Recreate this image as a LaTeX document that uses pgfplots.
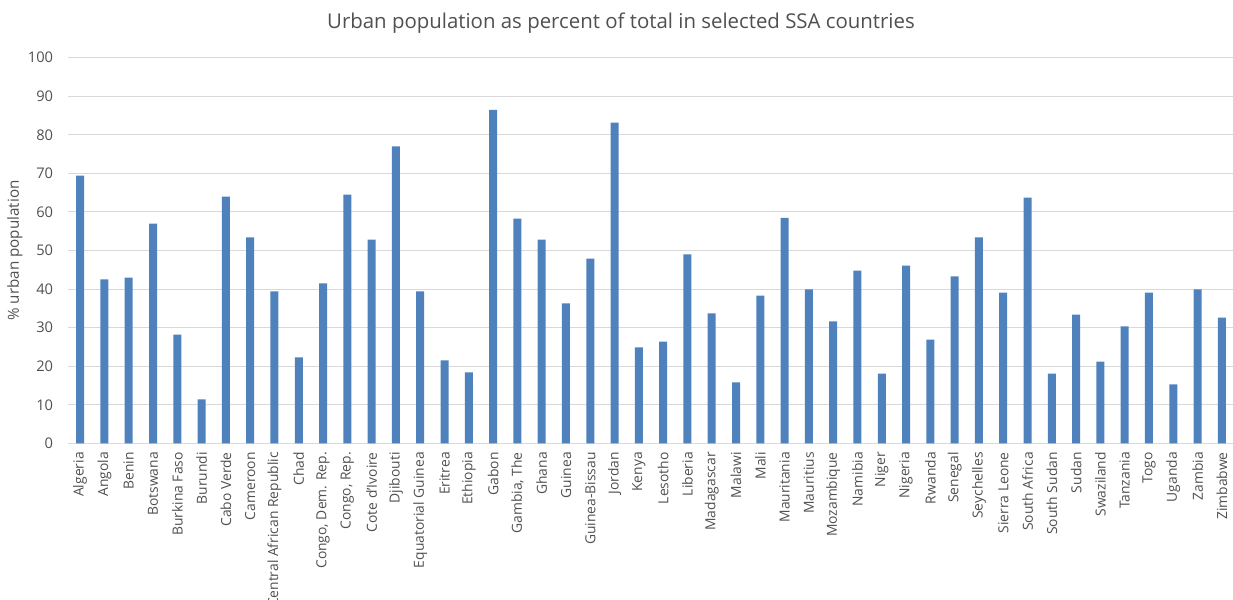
\documentclass[border=0pt]{standalone}
\usepackage{pgfplots}
\pgfplotsset{compat=1.18}
\usepackage{fontspec}
\setmainfont{Open Sans}
\definecolor{barblue}{HTML}{4F81BD}
\definecolor{txtgray}{HTML}{505050}
\definecolor{gridgray}{HTML}{D9D9D9}
\begin{document}
\begin{tikzpicture}
\begin{axis}[
  scale only axis, width=874.5pt, height=289.2pt,
  at={(0,0)}, anchor=south west,
  ybar, bar width=6pt,
  xmin=-0.5, xmax=47.5, ymin=0, ymax=100,
  ytick={0,10,...,100},
  xtick={0,...,47},
  xticklabels={Algeria,Angola,Benin,Botswana,Burkina Faso,Burundi,Cabo Verde,Cameroon,Central African Republic,Chad,{Congo, Dem. Rep.},{Congo, Rep.},Cote d'Ivoire,Djibouti,Equatorial Guinea,Eritrea,Ethiopia,Gabon,{Gambia, The},Ghana,Guinea,Guinea-Bissau,Jordan,Kenya,Lesotho,Liberia,Madagascar,Malawi,Mali,Mauritania,Mauritius,Mozambique,Namibia,Niger,Nigeria,Rwanda,Senegal,Seychelles,Sierra Leone,South Africa,South Sudan,Sudan,Swaziland,Tanzania,Togo,Uganda,Zambia,Zimbabwe},
  major tick length=0pt,
  axis line style={draw=none},
  ymajorgrids, major grid style={gridgray, line width=0.75pt},
  x tick label style={rotate=90, anchor=east, inner sep=0pt, font=\fontsize{10.4}{12}\selectfont, text=txtgray},
  xticklabel shift=6.5pt,
  y tick label style={anchor=east, inner sep=0pt, font=\fontsize{11}{12}\selectfont, text=txtgray},
  yticklabel shift=11pt,
  /pgf/number format/assume math mode=true,
  clip=false,
]
\addplot[fill=barblue, draw=none] coordinates {
(0,69.4) (1,42.5) (2,43.0) (3,57.0) (4,28.2) (5,11.4) (6,64.0) (7,53.4) (8,39.4) (9,22.3)
(10,41.5) (11,64.5) (12,52.8) (13,77.0) (14,39.4) (15,21.5) (16,18.4) (17,86.5) (18,58.3) (19,52.8)
(20,36.3) (21,47.9) (22,83.2) (23,24.9) (24,26.4) (25,49.0) (26,33.7) (27,15.8) (28,38.3) (29,58.5)
(30,39.9) (31,31.6) (32,44.8) (33,18.1) (34,46.1) (35,26.9) (36,43.3) (37,53.4) (38,39.1) (39,63.7)
(40,18.1) (41,33.4) (42,21.2) (43,30.3) (44,39.1) (45,15.3) (46,39.9) (47,32.6)
};
\end{axis}
\node[rotate=90, font=\fontsize{11.4}{13}\selectfont, text=txtgray] at (-39.75pt,144.6pt) {\% urban population};
\node[font=\fontsize{15.3}{18}\selectfont, text=txtgray] at (414.75pt,315pt) {Urban population as percent of total in selected SSA countries};
\pgfresetboundingbox
\useasboundingbox (-51pt,-117.5pt) rectangle (873.75pt,332.5pt);
\end{tikzpicture}
\end{document}
